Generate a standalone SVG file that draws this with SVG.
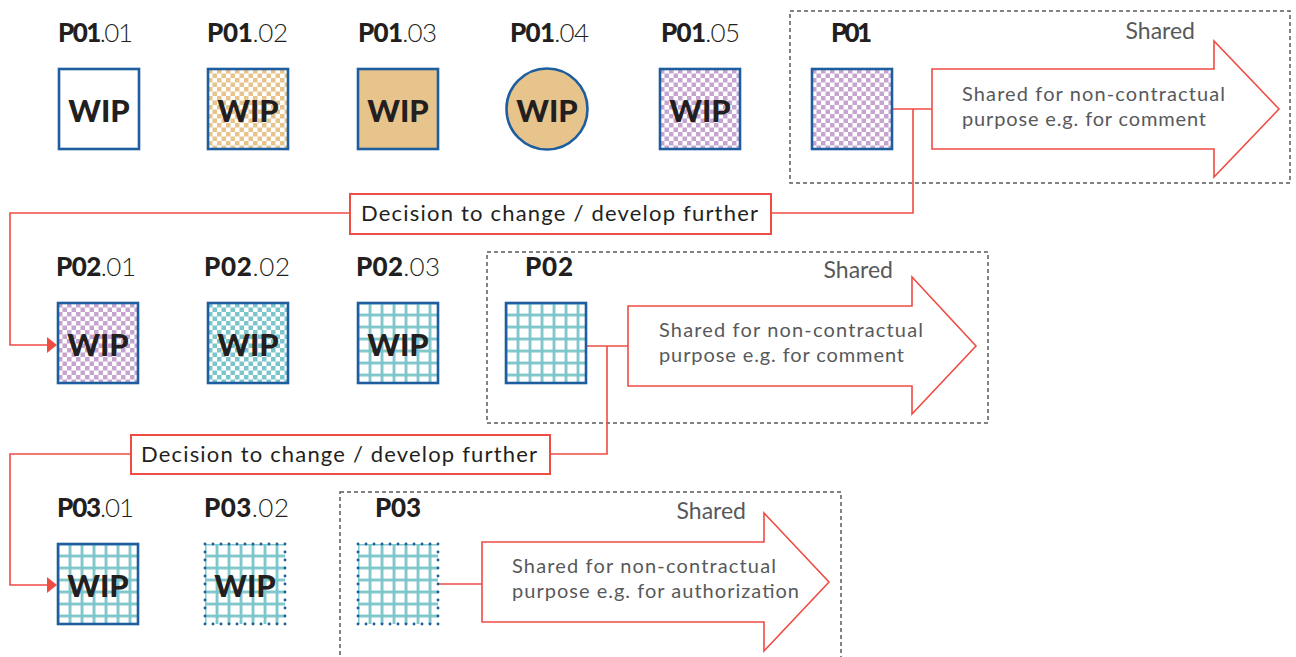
<svg xmlns="http://www.w3.org/2000/svg" width="1296" height="657" viewBox="0 0 1296 657">
<defs>
<style>
.bx{stroke:#1e5d9e;stroke-width:2.6}
.dot{fill:none;stroke:#1e5d9e;stroke-width:2.9;stroke-dasharray:0 8;stroke-linecap:round}
.lbl{font-family:Lato,"Noto Sans",sans-serif;font-size:26px;fill:#231f20}
.b{font-weight:900}
.l{font-weight:300}
.wip{font-family:Lato,"Noto Sans",sans-serif;font-size:31px;font-weight:900;fill:#231f20}
.sh{font-family:Lato,"Noto Sans",sans-serif;font-size:23px;fill:#58595b}
.at{font-family:Lato,"Noto Sans",sans-serif;font-size:20px;fill:#58595b}
.dec{font-family:Lato,"Noto Sans",sans-serif;font-size:22px;fill:#231f20}
.cont{fill:none;stroke:#58595b;stroke-width:1.5;stroke-dasharray:4 3}
.red{fill:none;stroke:#ef4c44;stroke-width:1.6}
.arr{fill:#fff;stroke:#ef4c44;stroke-width:1.6}
.decbox{fill:#fff;stroke:#ef4c44;stroke-width:2}
</style>
<pattern id="chkO" width="9" height="9" patternUnits="userSpaceOnUse">
<rect width="9" height="9" fill="#fff"/>
<rect width="4.5" height="4.5" fill="#e6c48c"/>
<rect x="4.5" y="4.5" width="4.5" height="4.5" fill="#e6c48c"/>
</pattern>
<pattern id="chkP" width="9" height="9" patternUnits="userSpaceOnUse">
<rect width="9" height="9" fill="#fff"/>
<rect width="4.5" height="4.5" fill="#c6a4d0"/>
<rect x="4.5" y="4.5" width="4.5" height="4.5" fill="#c6a4d0"/>
</pattern>
<pattern id="chkT" width="9" height="9" patternUnits="userSpaceOnUse">
<rect width="9" height="9" fill="#fff"/>
<rect width="4.5" height="4.5" fill="#7cc5cb"/>
<rect x="4.5" y="4.5" width="4.5" height="4.5" fill="#7cc5cb"/>
</pattern>
<pattern id="grid" x="-1.4" y="-1.4" width="12" height="12" patternUnits="userSpaceOnUse">
<rect width="12" height="12" fill="#fff"/>
<rect width="2.8" height="12" fill="#7cc5cb"/>
<rect width="12" height="2.8" fill="#7cc5cb"/>
</pattern>
</defs>

<g id="containers">
<rect class="cont" x="790" y="11" width="500" height="172"/>
<rect class="cont" x="487" y="252" width="501" height="171"/>
<rect class="cont" x="340" y="492" width="501" height="200"/>
</g>

<g id="connectors">
<path class="red" d="M892 109 H932"/>
<path class="red" d="M913 109 V213 H771"/>
<path class="red" d="M350 213 H10 V345 H48"/>
<polygon points="47,337 57,345 47,353" fill="#ef4c44"/>
<path class="red" d="M587 346 H628"/>
<path class="red" d="M607 346 V454 H550"/>
<path class="red" d="M131 454 H10 V585 H48"/>
<polygon points="47,577 57,585 47,593" fill="#ef4c44"/>
<path class="red" d="M439 584 H482"/>
</g>

<g id="P01-01">
<text class="lbl" x="58" y="42" textLength="75"><tspan class="b">P01</tspan><tspan class="l">.01</tspan></text>
<rect class="bx" x="59" y="69" width="80" height="80" fill="#fff"/>
<text class="wip" x="99" y="122" text-anchor="middle">WIP</text>
</g>
<g id="P01-02">
<text class="lbl" x="207" y="42" textLength="81"><tspan class="b">P01</tspan><tspan class="l">.02</tspan></text>
<g transform="translate(208,69)"><rect class="bx" width="80" height="80" fill="url(#chkO)"/></g>
<text class="wip" x="248" y="122" text-anchor="middle">WIP</text>
</g>
<g id="P01-03">
<text class="lbl" x="358" y="42" textLength="79"><tspan class="b">P01</tspan><tspan class="l">.03</tspan></text>
<rect class="bx" x="358" y="69" width="80" height="80" fill="#e6c48c"/>
<text class="wip" x="398" y="122" text-anchor="middle">WIP</text>
</g>
<g id="P01-04">
<text class="lbl" x="510" y="42" textLength="79"><tspan class="b">P01</tspan><tspan class="l">.04</tspan></text>
<circle class="bx" cx="547" cy="109" r="40.5" fill="#e6c48c"/>
<text class="wip" x="547" y="122" text-anchor="middle">WIP</text>
</g>
<g id="P01-05">
<text class="lbl" x="661" y="42" textLength="79"><tspan class="b">P01</tspan><tspan class="l">.05</tspan></text>
<g transform="translate(660,69)"><rect class="bx" width="80" height="80" fill="url(#chkP)"/></g>
<text class="wip" x="700" y="122" text-anchor="middle">WIP</text>
</g>
<g id="P01">
<text class="lbl" x="831" y="42" textLength="41"><tspan class="b">P01</tspan></text>
<g transform="translate(812,69)"><rect class="bx" width="80" height="80" fill="url(#chkP)"/></g>
</g>
<g id="P01-shared">
<text class="sh" x="1195" y="39" text-anchor="end">Shared</text>
<path class="arr" d="M932 69 H1214 V41 L1279 109 L1214 177 V149 H932 Z"/>
<text class="at" x="962" y="101" textLength="263">Shared for non-contractual</text>
<text class="at" x="962" y="126" textLength="244">purpose e.g. for comment</text>
</g>
<g id="decision-1">
<rect class="decbox" x="350" y="194" width="421" height="40"/>
<text class="dec" x="361" y="221" textLength="397">Decision to change / develop further</text>
</g>

<g id="P02-01">
<text class="lbl" x="56" y="276" textLength="80"><tspan class="b">P02</tspan><tspan class="l">.01</tspan></text>
<g transform="translate(58,303)"><rect class="bx" width="80" height="80" fill="url(#chkP)"/></g>
<text class="wip" x="98" y="356" text-anchor="middle">WIP</text>
</g>
<g id="P02-02">
<text class="lbl" x="204" y="276" textLength="86"><tspan class="b">P02</tspan><tspan class="l">.02</tspan></text>
<g transform="translate(208,303)"><rect class="bx" width="80" height="80" fill="url(#chkT)"/></g>
<text class="wip" x="248" y="356" text-anchor="middle">WIP</text>
</g>
<g id="P02-03">
<text class="lbl" x="356" y="276" textLength="84"><tspan class="b">P02</tspan><tspan class="l">.03</tspan></text>
<g transform="translate(358,303)"><rect class="bx" width="80" height="80" fill="url(#grid)"/></g>
<text class="wip" x="398" y="356" text-anchor="middle">WIP</text>
</g>
<g id="P02">
<text class="lbl" x="525" y="276" textLength="48"><tspan class="b">P02</tspan></text>
<g transform="translate(506,303)"><rect class="bx" width="80" height="80" fill="url(#grid)"/></g>
</g>
<g id="P02-shared">
<text class="sh" x="893" y="278" text-anchor="end">Shared</text>
<path class="arr" d="M628 306 H912 V277 L976 346 L912 414 V386 H628 Z"/>
<text class="at" x="659" y="337" textLength="264">Shared for non-contractual</text>
<text class="at" x="659" y="362" textLength="245">purpose e.g. for comment</text>
</g>
<g id="decision-2">
<rect class="decbox" x="131" y="435" width="419" height="39"/>
<text class="dec" x="141" y="462" textLength="396">Decision to change / develop further</text>
</g>

<g id="P03-01">
<text class="lbl" x="57" y="517" textLength="77"><tspan class="b">P03</tspan><tspan class="l">.01</tspan></text>
<g transform="translate(58,544)"><rect class="bx" width="80" height="80" fill="url(#grid)"/></g>
<text class="wip" x="98" y="597" text-anchor="middle">WIP</text>
</g>
<g id="P03-02">
<text class="lbl" x="204" y="517" textLength="85"><tspan class="b">P03</tspan><tspan class="l">.02</tspan></text>
<g transform="translate(205,544)"><rect width="80" height="80" fill="url(#grid)"/><rect class="dot" width="80" height="80"/></g>
<text class="wip" x="245" y="597" text-anchor="middle">WIP</text>
</g>
<g id="P03">
<text class="lbl" x="375" y="517" textLength="46"><tspan class="b">P03</tspan></text>
<g transform="translate(358,544)"><rect width="80" height="80" fill="url(#grid)"/><rect class="dot" width="80" height="80"/></g>
</g>
<g id="P03-shared">
<text class="sh" x="746" y="519" text-anchor="end">Shared</text>
<path class="arr" d="M482 542 H764 V513 L829 582 L764 651 V622 H482 Z"/>
<text class="at" x="512" y="573" textLength="264">Shared for non-contractual</text>
<text class="at" x="512" y="598" textLength="287">purpose e.g. for authorization</text>
</g>
</svg>
